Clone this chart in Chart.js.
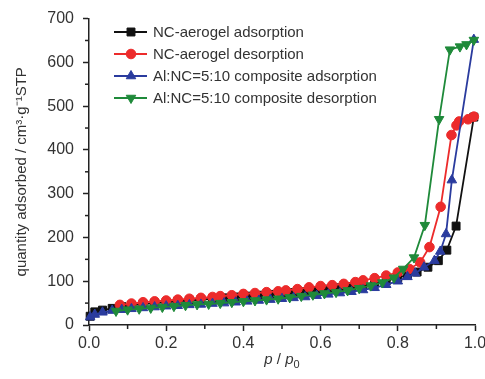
<!DOCTYPE html>
<html>
<head>
<meta charset="utf-8">
<script src="https://cdn.jsdelivr.net/npm/chart.js@4"></script>
<style>
  html, body { margin: 0; padding: 0; background: #fff; }
  #wrap { width: 485px; height: 379px; }
</style>
</head>
<body>
<div id="wrap"><canvas id="chart" width="485" height="379"></canvas></div>
<script>
// isotherm data (p/p0, cm3/g STP)
const seriesNames = [
    'NC-aerogel adsorption',
    'NC-aerogel desorption',
    'Al:NC=5:10 composite adsorption',
    'Al:NC=5:10 composite desorption'
];

const ncAdsX = [0.003, 0.015, 0.035, 0.06, 0.085, 0.11, 0.14, 0.17, 0.20, 0.23, 0.26, 0.29, 0.32, 0.35, 0.38, 0.41, 0.44, 0.47, 0.50, 0.53, 0.56, 0.59, 0.62, 0.65, 0.68, 0.71, 0.74, 0.77, 0.80, 0.825, 0.85, 0.878, 0.905, 0.927, 0.951, 0.997];
const ncAdsY = [20, 30, 34, 38, 42, 45, 48, 50, 52, 54, 56, 58, 60, 62, 64, 66, 68, 70, 72, 74, 76, 79, 82, 85, 88, 92, 96, 101, 108, 114, 121, 132, 147, 171, 226, 475];

const ncDesX = [0.08, 0.11, 0.14, 0.17, 0.20, 0.23, 0.26, 0.29, 0.32, 0.34, 0.37, 0.40, 0.43, 0.46, 0.49, 0.51, 0.54, 0.57, 0.60, 0.63, 0.66, 0.69, 0.71, 0.74, 0.77, 0.80, 0.83, 0.858, 0.882, 0.911, 0.939, 0.952, 0.959, 0.982, 0.997];
const ncDesY = [46, 49, 52, 54, 56, 58, 60, 62, 64, 66, 68, 71, 73, 75, 77, 79, 82, 86, 89, 91, 94, 98, 102, 107, 113, 120, 128, 143, 178, 270, 434, 456, 465, 470, 476];

const alAdsX = [0.003, 0.015, 0.035, 0.06, 0.085, 0.11, 0.14, 0.17, 0.20, 0.23, 0.26, 0.29, 0.32, 0.35, 0.38, 0.41, 0.44, 0.47, 0.50, 0.53, 0.56, 0.59, 0.62, 0.65, 0.68, 0.71, 0.74, 0.77, 0.80, 0.825, 0.845, 0.868, 0.895, 0.91, 0.925, 0.94, 0.997];
const alAdsY = [18, 24, 29, 33, 35, 37, 39, 41, 43, 44, 46, 47, 49, 50, 52, 54, 56, 58, 60, 62, 64, 67, 70, 73, 76, 80, 85, 92, 100, 110, 118, 132, 147, 168, 208, 331, 652];

const alDesX = [0.07, 0.10, 0.13, 0.16, 0.19, 0.22, 0.25, 0.28, 0.31, 0.34, 0.37, 0.40, 0.43, 0.46, 0.49, 0.52, 0.55, 0.58, 0.61, 0.64, 0.67, 0.70, 0.73, 0.76, 0.79, 0.814, 0.842, 0.87, 0.907, 0.935, 0.961, 0.978, 0.997];
const alDesY = [32, 35, 37, 39, 41, 43, 45, 47, 48, 50, 52, 54, 56, 58, 60, 63, 66, 69, 72, 75, 79, 84, 90, 97, 108, 128, 154, 228, 470, 629, 636, 641, 651];

const xTickLabels = ['0.0', '0.2', '0.4', '0.6', '0.8', '1.0'];
const yTickLabels = ['0', '100', '200', '300', '400', '500', '600', '700'];

const tickFont = "'Liberation Sans', Arial, sans-serif";

function toPoints(xs, ys) {
    return xs.map((x, i) => ({ x: x, y: ys[i] }));
}

function makeSet(label, xs, ys, color, style, radius, rotation, order) {
    return {
        label: label,
        data: toPoints(xs, ys),
        borderColor: color,
        backgroundColor: color,
        borderWidth: 1.8,
        pointStyle: style,
        pointRadius: radius,
        pointRotation: rotation,
        pointBorderWidth: 1,
        pointHoverRadius: radius,
        tension: 0,
        clip: false,
        order: order
    };
}

// minor ticks + axis titles + legend inside the plot
const decorPlugin = {
    id: 'decor',
    afterDraw(chart) {
        const ctx = chart.ctx;
        const xs = chart.scales.x;
        const ys = chart.scales.y;
        const area = chart.chartArea;
        ctx.save();

        ctx.strokeStyle = '#222';
        ctx.lineWidth = 1.5;
        for (let v = 50; v < 700; v += 100) {
            const py = ys.getPixelForValue(v);
            ctx.beginPath();
            ctx.moveTo(area.left - 4, py);
            ctx.lineTo(area.left, py);
            ctx.stroke();
        }
        for (let v = 0.1; v < 1; v += 0.2) {
            const px = xs.getPixelForValue(v);
            ctx.beginPath();
            ctx.moveTo(px, area.bottom);
            ctx.lineTo(px, area.bottom + 4);
            ctx.stroke();
        }

        // y title
        ctx.fillStyle = '#333';
        ctx.font = "15px " + tickFont;
        ctx.textAlign = 'center';
        ctx.textBaseline = 'middle';
        ctx.translate(22, (area.top + area.bottom) / 2);
        ctx.rotate(-Math.PI / 2);
        ctx.fillText('quantity adsorbed / cm\u00B3\u00B7g\u207B\u00B9STP', 0, 0);
        ctx.setTransform(1, 0, 0, 1, 0, 0);

        // x title: p / p0
        const cx = (area.left + area.right) / 2;
        const ty = 364;
        ctx.textAlign = 'left';
        ctx.textBaseline = 'alphabetic';
        const italic = "italic 15px " + tickFont;
        const plain = "15px " + tickFont;
        const sub = "11px " + tickFont;
        const parts = [['p', italic, 0], [' / ', plain, 0], ['p', italic, 0], ['0', sub, 4]];
        let total = 0;
        parts.forEach(p => { ctx.font = p[1]; total += ctx.measureText(p[0]).width; });
        let px = cx - total / 2;
        parts.forEach(p => {
            ctx.font = p[1];
            ctx.fillText(p[0], px, ty + p[2]);
            px += ctx.measureText(p[0]).width;
        });

        // legend
        const rowY = [32, 54, 76, 98];
        chart.data.datasets.forEach((ds, i) => {
            const y = rowY[i];
            ctx.strokeStyle = ds.borderColor;
            ctx.lineWidth = 1.8;
            ctx.beginPath();
            ctx.moveTo(114, y);
            ctx.lineTo(147, y);
            ctx.stroke();
            ctx.fillStyle = ds.backgroundColor;
            ctx.lineWidth = 1;
            Chart.helpers.drawPoint(ctx, {
                pointStyle: ds.pointStyle,
                rotation: ds.pointRotation,
                radius: ds.pointRadius,
                borderWidth: 1
            }, 131, y);
            ctx.fillStyle = '#333';
            ctx.font = "15px " + tickFont;
            ctx.textAlign = 'left';
            ctx.textBaseline = 'middle';
            ctx.fillText(ds.label, 153, y + 1);
        });
        ctx.restore();
    }
};

const ctx = document.getElementById('chart').getContext('2d');
const chart = new Chart(ctx, {
    type: 'line',
    data: {
        datasets: [
            makeSet(seriesNames[0], ncAdsX, ncAdsY, '#111111', 'rect', 5.6, 0, 4),
            makeSet(seriesNames[1], ncDesX, ncDesY, '#ec2b2b', 'circle', 4.8, 0, 3),
            makeSet(seriesNames[2], alAdsX, alAdsY, '#2a3b9e', 'triangle', 5.5, 0, 2),
            makeSet(seriesNames[3], alDesX, alDesY, '#1f8a3a', 'triangle', 5.5, 180, 1)
        ]
    },
    options: {
        responsive: false,
        animation: false,
        devicePixelRatio: 1,
        layout: {
            padding: { top: 15, right: 10, left: 0, bottom: 0 }
        },
        plugins: {
            legend: { display: false },
            tooltip: { enabled: false }
        },
        scales: {
            x: {
                type: 'linear',
                min: 0,
                max: 1,
                afterFit: function(s) {
                    s.height = 54;
                    s.paddingLeft = 0;
                    s.paddingRight = 0;
                },
                ticks: {
                    stepSize: 0.2,
                    padding: 3,
                    color: '#333',
                    font: { family: tickFont, size: 16 },
                    callback: function(v) {
                        const i = Math.round(v / 0.2);
                        return xTickLabels[i] !== undefined ? xTickLabels[i] : '';
                    }
                },
                grid: {
                    drawOnChartArea: false,
                    drawTicks: true,
                    tickLength: 6,
                    tickWidth: 1.5,
                    tickColor: '#222'
                },
                border: { display: true, color: '#222', width: 1.5 }
            },
            y: {
                min: 0,
                max: 700,
                afterFit: function(s) {
                    s.width = 89;
                },
                ticks: {
                    stepSize: 100,
                    padding: 9,
                    color: '#333',
                    font: { family: tickFont, size: 16 },
                    callback: function(v) {
                        const i = Math.round(v / 100);
                        return yTickLabels[i] !== undefined ? yTickLabels[i] : '';
                    }
                },
                grid: {
                    drawOnChartArea: false,
                    drawTicks: true,
                    tickLength: 6,
                    tickWidth: 1.5,
                    tickColor: '#222'
                },
                border: { display: true, color: '#222', width: 1.5 }
            }
        }
    },
    plugins: [decorPlugin]
});
</script>
</body>
</html>
